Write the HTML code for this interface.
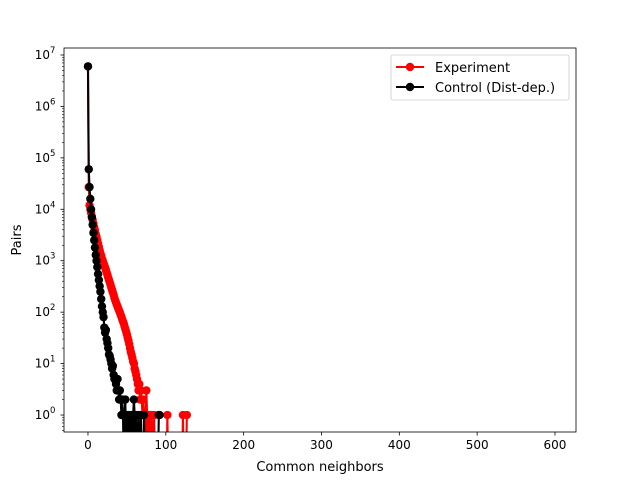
<!DOCTYPE html>
<html><head><meta charset="utf-8"><style>
body{margin:0;background:#fff;overflow:hidden}
svg{display:block;font-family:"DejaVu Sans","Liberation Sans",sans-serif}
</style></head><body>
<svg id="chart" width="640" height="480" viewBox="0 0 640 480">
<defs><clipPath id="clip"><rect x="64" y="48" width="512" height="384"/></clipPath></defs>
<rect x="0" y="0" width="640" height="480" fill="#fff"/>
<g id="plot" clip-path="url(#clip)"></g>
<rect x="64" y="48" width="512" height="384" fill="none" stroke="#000" stroke-width="0.8"/>
<g id="axes"></g>
<text x="320" y="471" text-anchor="middle" font-size="13">Common neighbors</text>
<text x="21" y="240" text-anchor="middle" font-size="13" transform="rotate(-90 21 240)">Pairs</text>
<g>
<rect x="391" y="55" width="178" height="45" rx="2" fill="#fff" fill-opacity="0.8" stroke="#ccc" stroke-width="0.8"/>
<g>
<line x1="396" y1="67" x2="424" y2="67" stroke="red" stroke-width="2"/>
<circle cx="410" cy="67" r="4.2" fill="red"/>
<text x="435" y="72" font-size="13">Experiment</text></g>
<g>
<line x1="396" y1="87" x2="424" y2="87" stroke="#000" stroke-width="2"/>
<circle cx="410" cy="87" r="4.2" fill="#000"/>
<text x="435" y="92" font-size="13">Control (Dist-dep.)</text></g>
</g>
</svg>
<script>
const expCounts = [6000000,27000,12000,10000,8500,7300,6200,5300,4500,3900,3300,2900,2500,2150,1850,1600,1400,1250,1100,1000,
900,820,740,660,590,530,470,420,380,340,300,270,240,215,190,170,155,140,128,117,
107,98,89,81,73,66,60,53,47,42,37,32,28,24,20,17,15,13,11,10,
8,7,6,5,4,3,4,2,3,2,1,2,1,0,1,3,1,0,1,0,1,0,1,0,0,1,0,0,0,0,
0,0,0,0,0,0,0,0,0,0,0,0,1,0,0,0,0,0,0,0,0,0,0,0,0,0,0,0,0,0,0,0,1,0,0,0,0,1];
const ctlCounts = [6000000,60000,27000,16000,10000,7000,5000,3500,2500,1800,1300,1000,750,550,420,320,250,180,130,100,
80,50,40,45,30,25,20,15,14,12,10,8,9,6,5,5,4,3,5,3,2,3,2,1,2,1,0,1,2,0,
1,0,1,0,1,0,1,0,1,2,1,0,1,0,0,1,0,0,1,0,0,0,1,0,0,0,0,0,0,0,0,0,0,0,0,0,0,0,0,0,0,1,1];
const xTicks = [0,100,200,300,400,500,600];
const yDecades = [0,1,2,3,4,5,6,7];

const X0=64,X1=576,Y0=48,Y1=432, xmin=-30.8, xmax=627, lmin=-0.33, lmax=7.136;
function sx(v){return X0+(v-xmin)/(xmax-xmin)*(X1-X0);}
function sy(v){ if(v<=0) return Y1+40; return Y1-(Math.log10(v)-lmin)/(lmax-lmin)*(Y1-Y0);}
const NS='http://www.w3.org/2000/svg';
function mk(tag,attrs,parent){const e=document.createElementNS(NS,tag);for(const k in attrs)e.setAttribute(k,attrs[k]);parent.appendChild(e);return e;}
const plot=document.getElementById('plot'), axes=document.getElementById('axes');

function series(data,color,name){
  const g=mk('g',{},plot);
  
  
  let d='';
  data.forEach((v,i)=>{d+=(i?'L':'M')+sx(i).toFixed(2)+' '+sy(v).toFixed(2);});
  const p=mk('path',{d:d,fill:'none',stroke:color,'stroke-width':2.1,'stroke-linejoin':'round'},g);
  
  
  data.forEach((v,i)=>{ if(v>0){
    const c=mk('circle',{cx:sx(i),cy:sy(v),r:4.2,fill:color},g);
    
    
  }});
}
series(expCounts,'red','experiment-series');
series(ctlCounts,'#000','control-series');

xTicks.forEach(t=>{
  const x=sx(t);
  mk('line',{x1:x,y1:Y1,x2:x,y2:Y1+3.5,stroke:'#000','stroke-width':0.8},axes);
  const tx=mk('text',{x:x,y:Y1+17,'text-anchor':'middle','font-size':12},axes);
  tx.textContent=t;
  
  
});
for(let d=-1; d<=7; d++){
  for(let m=2;m<=9;m++){
    const v=m*Math.pow(10,d), y=sy(v);
    if(y>=Y0&&y<=Y1) mk('line',{x1:X0,y1:y,x2:X0-2,y2:y,stroke:'#000','stroke-width':0.6},axes);
  }
}
yDecades.forEach(d=>{
  const y=sy(Math.pow(10,d));
  mk('line',{x1:X0,y1:y,x2:X0-3.5,y2:y,stroke:'#000','stroke-width':0.8},axes);
  const tx=mk('text',{x:X0-14,y:y+4,'text-anchor':'end','font-size':12},axes);
  tx.textContent='10';
  
  
  const sp=mk('text',{x:X0-14,y:y-2,'text-anchor':'start','font-size':8.5},axes);
  sp.textContent=d;
});
</script>
</body></html>
